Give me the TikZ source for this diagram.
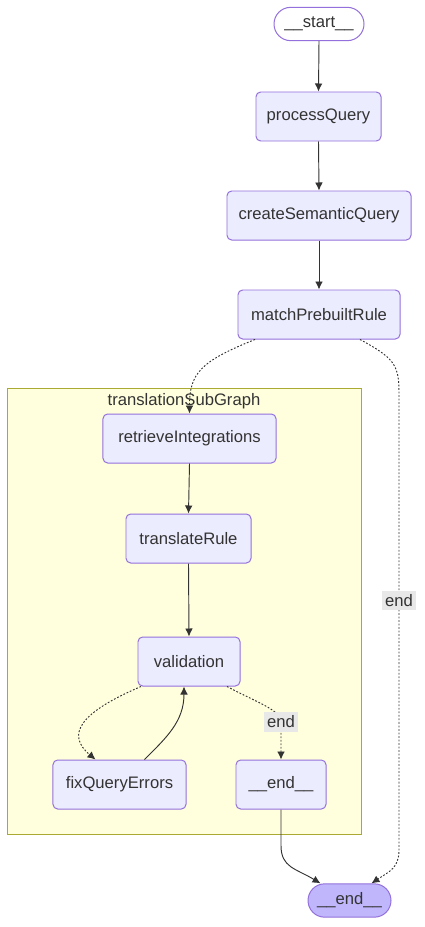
\documentclass[tikz,border=0pt]{standalone}
\usepackage{fontspec}
\setmainfont{Liberation Sans}
\usetikzlibrary{arrows.meta,positioning,calc}
\definecolor{nodefill}{RGB}{236,236,255}
\definecolor{nodeline}{RGB}{147,112,219}
\definecolor{subfill}{RGB}{255,255,222}
\definecolor{subline}{RGB}{170,170,51}
\definecolor{lastfill}{RGB}{191,182,252}
\definecolor{edgegray}{RGB}{51,51,51}
\definecolor{labelgray}{RGB}{232,232,232}

\begin{document}
\begin{tikzpicture}[
  x=0.03cm, y=-0.03cm,
  font=\fontsize{14.2}{17}\selectfont,
  >={Latex[length=2.4mm,width=2.3mm]},
  box/.style={draw=nodeline, fill=nodefill, line width=0.85pt, rounded corners=4pt, minimum width=#1, minimum height=1.47cm, inner sep=0pt, text=edgegray},
  term/.style={draw=nodeline, fill=#1, line width=0.85pt, rounded corners=0.5cm, minimum height=1.0cm, inner sep=0pt, text=edgegray},
  cluster/.style={draw=subline, fill=subfill, line width=0.85pt, inner sep=0pt},
  elabel/.style={fill=labelgray, text=edgegray, inner xsep=3pt, inner ysep=3pt},
  edge/.style={->, draw=edgegray, line width=0.8pt},
  dotedge/.style={->, draw=edgegray, line width=0.8pt, dash pattern=on 1.5pt off 1.5pt}
]
\useasboundingbox (0,0) rectangle (425,927);

% Subgraph
\node[cluster, minimum width=10.59cm, minimum height=13.35cm] (subgraph) at (184.5,611.5) {};
\node[text=edgegray] (subtitle) at (184,401) {translationSubGraph};

% Main chain
\node[term=white, minimum width=2.7cm] (start) at (319,24) {\_\_start\_\_};
\node[box=3.75cm] (processQuery) at (318.5,116.5) {processQuery};
\node[box=5.52cm] (createSemanticQuery) at (319,215.5) {createSemanticQuery};
\node[box=4.86cm] (matchPrebuiltRule) at (319,314.5) {matchPrebuiltRule};

% Subgraph nodes
\node[box=5.19cm] (retrieveIntegrations) at (189.5,438.5) {retrieveIntegrations};
\node[box=3.75cm] (translateRule) at (188.5,538.5) {translateRule};
\node[box=3.06cm] (validation) at (189,661.5) {validation};
\node[box=3.99cm] (fixQueryErrors) at (119.5,784.5) {fixQueryErrors};
\node[box=2.7cm] (innerEnd) at (281,784.5) {\_\_end\_\_};

% Final node
\node[term=lastfill, minimum width=2.49cm] (finalEnd) at (349.5,900.5) {\_\_end\_\_};

% Straight edges
\draw[edge] (start.south) -- (processQuery.north);
\draw[edge] (processQuery.south) -- (createSemanticQuery.north);
\draw[edge] (createSemanticQuery.south) -- (matchPrebuiltRule.north);
\draw[edge] (retrieveIntegrations.south) -- (translateRule.north);
\draw[edge] (translateRule.south) -- (validation.north);

% Into the subgraph
\draw[dotedge] ($(matchPrebuiltRule.south)+(-64,0)$) .. controls +(-55,22) and +(0,-40) .. (retrieveIntegrations.north);

% Skip to the end
\coordinate (bendR1) at (399,392);
\coordinate (bendR2) at (399,850);
\draw[dotedge] ($(matchPrebuiltRule.south)+(41,0)$) .. controls +(33,18) and +(0,-28) .. (bendR1)
  -- node[elabel, pos=0.455] (lblOuter) {end} (bendR2)
  .. controls +(0,18) and +(18,-12) .. ($(finalEnd.north)+(22,0)$);

% Retry loop
\draw[dotedge] ($(validation.south)+(-48,0)$) .. controls +(-61,26) and +(-30,-25) .. ($(fixQueryErrors.north)+(-24,0)$);
\draw[edge] ($(fixQueryErrors.north)+(25,0)$) .. controls +(22,-22) and +(0,35) .. ($(validation.south)+(-5,0)$);

% Inner end
\coordinate (vEnd) at (281,722);
\draw[dotedge] ($(validation.south)+(38,0)$) .. controls +(30,16) and +(0,-12) .. (vEnd) -- (innerEnd.north);
\node[elabel] (lblInner) at (vEnd) {end};
\draw[edge] (innerEnd.south) -- ++(0,36) .. controls +(0,22) and +(-25,-15) .. ($(finalEnd.north)+(-29,0)$);

\end{tikzpicture}
\end{document}
